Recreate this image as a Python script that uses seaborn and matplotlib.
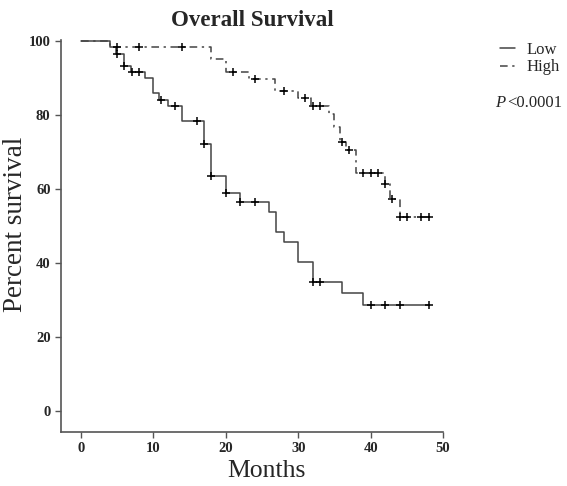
import matplotlib.pyplot as plt
import seaborn as sns
import pandas as pd

# Kaplan-Meier steps (months, percent survival)
low_time = [0, 4.0, 4.8, 5.9, 6.9, 8.8, 10.0, 10.8, 12.0, 14.0, 17.0, 18.0, 20.0, 22.0,
            26.0, 27.0, 28.0, 30.0, 32.0, 36.0, 39.0, 48.0]
low_surv = [100, 98.2, 96.5, 93.2, 91.5, 89.8, 85.9, 84.1, 82.3, 78.2, 72.1, 63.5, 58.8, 56.4,
            53.8, 48.4, 45.7, 40.4, 35.0, 31.9, 28.8, 28.8]
high_time = [0, 4.0, 17.9, 20.0, 23.2, 26.8, 30.0, 31.8, 34.2, 35.0, 35.8, 36.6, 38.0,
             42.0, 42.7, 44.0, 48.0]
high_surv = [100, 98.2, 94.9, 91.6, 89.6, 86.3, 84.4, 82.3, 80.3, 76.6, 72.7, 70.6, 64.3,
             61.3, 57.3, 52.4, 52.4]

# censored observations
low_cens_time = [5.0, 6.0, 7.0, 8.0, 11.0, 13.0, 16.0, 17.0, 18.0, 20.0, 22.0, 24.0,
                 32.0, 33.0, 40.0, 42.0, 44.0, 48.0]
low_cens_surv = [96.5, 93.2, 91.5, 91.5, 84.1, 82.3, 78.2, 72.1, 63.5, 58.8, 56.4, 56.4,
                 35.0, 35.0, 28.8, 28.8, 28.8, 28.8]
high_cens_time = [5.0, 8.0, 14.0, 21.0, 24.0, 28.0, 31.0, 32.0, 33.0, 36.0, 37.0, 39.0,
                  40.0, 41.0, 42.0, 43.0, 44.0, 45.0, 47.0, 48.0]
high_cens_surv = [98.2, 98.2, 98.2, 91.6, 89.6, 86.3, 84.4, 82.3, 82.3, 72.7, 70.6, 64.3,
                  64.3, 64.3, 61.3, 57.3, 52.4, 52.4, 52.4, 52.4]

sns.set_style('ticks')
plt.rcParams['font.family'] = ['Liberation Serif', 'DejaVu Serif']

fig = plt.figure(figsize=(5.67, 4.86), dpi=100)
ax = fig.add_axes([0.1076, 0.111, 0.6737, 0.807])

low = pd.DataFrame({'t': low_time, 's': low_surv})
high = pd.DataFrame({'t': high_time, 's': high_surv})

sns.lineplot(data=low, x='t', y='s', ax=ax, drawstyle='steps-post', estimator=None,
             color='#444444', lw=1.1, label='Low')
sns.lineplot(data=high, x='t', y='s', ax=ax, drawstyle='steps-post', estimator=None,
             color='#444444', lw=1.1, label='High')
ax.lines[1].set_linestyle((0, (5, 3, 1.5, 3)))

sns.scatterplot(x=low_cens_time, y=low_cens_surv, ax=ax, marker='+', s=40,
                color='black', linewidth=1.1, zorder=3)
sns.scatterplot(x=high_cens_time, y=high_cens_surv, ax=ax, marker='+', s=40,
                color='black', linewidth=1.1, zorder=3)

ax.set_xlim(-2.76, 50)
ax.set_ylim(-5.6, 100.2)
ax.set_xticks([0, 10, 20, 30, 40, 50])
ax.set_yticks([0, 20, 40, 60, 80, 100])
sns.despine(ax=ax)
for sp in ['left', 'bottom']:
    ax.spines[sp].set_color('#555555')
    ax.spines[sp].set_linewidth(1.2)
ax.tick_params(direction='out', length=4, width=1, color='#555555', labelsize=10.5)
for lab in ax.get_xticklabels() + ax.get_yticklabels():
    lab.set_fontweight('bold')

ax.set_title('Overall Survival', fontsize=16.5, fontweight='bold', pad=10)
ax.set_xlabel('Months', fontsize=18.5)
ax.set_ylabel('Percent survival', fontsize=19.5)
ax.xaxis.set_label_coords(0.537, -0.072)
ax.yaxis.set_label_coords(-0.087, 0.53)

leg = ax.legend(loc='upper left', bbox_to_anchor=(0.855, 0.945), bbox_transform=fig.transFigure,
                frameon=False, fontsize=12, handlelength=0.9, handletextpad=0.7,
                labelspacing=0.1)
fig.text(0.873, 0.788, 'P', style='italic', fontsize=12, va='center')
fig.text(0.895, 0.788, '<0.0001', fontsize=12, va='center')

fig.savefig('out.png', dpi=100)
